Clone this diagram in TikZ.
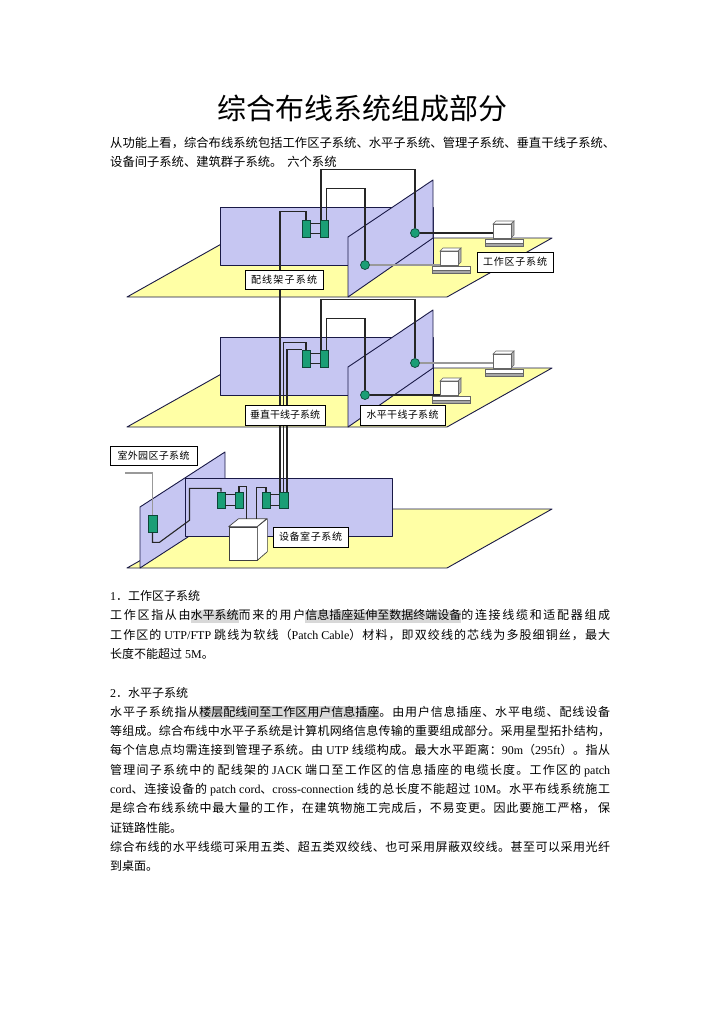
\documentclass[tikz,border=0pt]{standalone}
\usepackage{fontspec}
\setmainfont{Liberation Serif}
\newfontfamily\cjk{Noto Sans CJK SC}
\newfontfamily\enfont{Liberation Serif}
\newcount\mycnt
\mycnt="4E00
\loop
  \XeTeXcharclass\mycnt=1
  \advance\mycnt by 1
\ifnum\mycnt<"A000 \repeat
\XeTeXcharclass"3001=1 \XeTeXcharclass"3002=1 \XeTeXcharclass"FF0C=1 \XeTeXcharclass"FF08=1 \XeTeXcharclass"FF09=1 \XeTeXcharclass"FF1A=1 \XeTeXcharclass"FF0E=1
\XeTeXinterchartoks 1 1 = {\hskip 0pt plus 1fil\relax}
\XeTeXinterchartokenstate=1
\definecolor{wallblue}{RGB}{198,198,242}
\definecolor{floory}{RGB}{255,255,165}
\definecolor{navy}{RGB}{25,25,70}
\definecolor{jackg}{RGB}{26,158,118}
\definecolor{jackd}{RGB}{12,70,55}
\definecolor{hlgray}{RGB}{216,216,216}
\newcommand\EN[1]{{\enfont #1}}
\newcommand\HL[1]{{\setlength{\fboxsep}{0pt}\colorbox{hlgray}{\rule[-3pt]{0pt}{13pt}#1}}}
\newcommand\JL[1]{\hbox to 500pt{#1}}
\tikzset{
  floor/.style={fill=floory, draw=navy, line width=0.9pt, line join=round},
  wall/.style={fill=wallblue, draw=navy, line width=0.9pt, line join=round},
  wire/.style={draw=black!85, line width=1.1pt},
  gwire/.style={draw=black!40, line width=1.1pt},
  jack/.style={rectangle, fill=jackg, draw=jackd, line width=0.6pt, minimum width=8pt, minimum height=17pt, inner sep=0pt},
  outlet/.style={circle, fill=jackg, draw=jackd, line width=0.7pt, minimum size=9pt, inner sep=0pt},
  lbl/.style={draw=black, fill=white, line width=0.8pt, inner sep=0pt, minimum height=19pt, font=\cjk\fontsize{10}{10}\selectfont},
  txt/.style={anchor=west, inner sep=0pt, text height=10.5pt, text depth=1.5pt, font=\cjk\fontsize{12}{14}\selectfont},
  pc/.pic={
    \filldraw[fill=white, draw=black!60, line width=0.6pt] (-8,15) rectangle (30,22);
    \filldraw[fill=black!35, draw=black!60, line width=0.6pt] (-8,19) rectangle (30,22);
    \filldraw[fill=white, draw=black!60, line width=0.6pt] (0,0) -- (3,-3) -- (21,-3) -- (18,0) -- cycle;
    \filldraw[fill=black!30, draw=black!60, line width=0.6pt] (18,0) -- (21,-3) -- (21,11) -- (18,14) -- cycle;
    \filldraw[fill=white, draw=black!60, line width=0.6pt] (0,0) rectangle (18,14);
    \coordinate (-w) at (0,0);
  }
}
\begin{document}
\begin{tikzpicture}[x=1pt,y=-1pt]
\useasboundingbox (0,0) rectangle (724,1024);

% ---------- title and intro ----------
\node[inner sep=0pt, font=\cjk\fontsize{29}{29}\selectfont] (title) at (362,109) {综合布线系统组成部分};
\node[txt, font=\cjk\fontsize{12.3}{14}\selectfont] (i1) at (110,143) {\hbox to 505pt{从功能上看，综合布线系统包括工作区子系统、水平子系统、管理子系统、垂直干线子系统、}};
\node[txt, font=\cjk\fontsize{12.3}{14}\selectfont] (i2) at (110,162) {设备间子系统、建筑群子系统。\hspace{5pt}六个系统};

% ---------- floors and walls ----------
\foreach \dy in {0,130}{
  \begin{scope}[yshift=-\dy pt]
    \filldraw[floor] (127,297) -- (447,297) -- (552,238) -- (232,238) -- cycle;
    \filldraw[wall] (220,207) rectangle (433,265);
    \filldraw[wall] (348,297) -- (348,237) -- (433,180) -- (433,238) -- cycle;
  \end{scope}
}
\filldraw[floor] (127,568) -- (447,568) -- (552,509) -- (232,509) -- cycle;
\filldraw[wall] (140,568) -- (140,507) -- (225,452) -- (225,513) -- cycle;
\filldraw[wall] (185,478) rectangle (392,536);

% ---------- equipment on floors 1 and 2 ----------
\foreach \f/\dy in {1/0,2/130}{
  \begin{scope}[yshift=-\dy pt]
    \node[jack] (jL\f) at (306,228.5) {};
    \node[jack] (jR\f) at (324,228.5) {};
    \node[outlet] (oA\f) at (415,233) {};
    \node[outlet] (oB\f) at (365,265) {};
    \pic (pcA\f) at (493,224) {pc};
    \pic (pcB\f) at (440,251) {pc};
  \end{scope}
}

% ---------- basement equipment ----------
\node[jack, minimum width=9pt] (jP) at (152.5,523.5) {};
\node[jack, minimum height=16pt] (jB1) at (221,500) {};
\node[jack, minimum height=16pt] (jB2) at (239,500) {};
\node[jack, minimum height=16pt] (jB3) at (266,500) {};
\node[jack, minimum height=16pt, minimum width=9pt] (jB4) at (283.5,500) {};
\node[draw=black!75, fill=white, line width=0.7pt, minimum width=28pt, minimum height=33pt, inner sep=0pt] (cube) at (243,543.5) {};
\filldraw[fill=white, draw=black!75, line width=0.7pt, line join=round] (cube.north west) -- ++(10,-8) -- ++(28,0) -- (cube.north east) -- cycle;
\filldraw[fill=white, draw=black!75, line width=0.7pt, line join=round] (cube.north east) -- ++(10,-8) -- ++(0,33) -- (cube.south east) -- cycle;
\coordinate (ctA) at ([shift={(18,-8)}]cube.north west);
\coordinate (ctB) at ([shift={(28,-8)}]cube.north west);
\coordinate (ext) at (125,473);

% ---------- wires, floors 1 and 2 ----------
\foreach \f in {1,2}{
  \draw[wire] ([yshift=-4pt]jL\f.north east) -- ([yshift=-4pt]jR\f.north west);
  \draw[wire] ([yshift=4pt]jL\f.south east) -- ([yshift=4pt]jR\f.south west);
  \draw[wire] ([xshift=-3pt]jR\f.north) -- ++(0,-50) -| (oA\f.north);
  \draw[wire] ([xshift=2.5pt]jR\f.north) -- ++(0,-31) -| (oB\f.north);
}
\draw[wire] (oA1.east) -- (oA1.east -| pcA1-w);
\draw[gwire] (oB1.east) -- (oB1.east -| pcB1-w);
\draw[gwire] (oA2.east) -- (oA2.east -| pcA2-w);
\draw[wire] (oB2.east) -- (oB2.east -| pcB2-w);

% risers
\draw[wire] (jL1.north) -- ++(0,-8) -| ([xshift=-3.5pt]jB4.north);
\draw[wire] (jL2.north) -- ++(0,-7) -| (jB4.north);
\draw[wire] (jL2.north west) -| ([xshift=3.5pt]jB4.north);

% ---------- basement wires ----------
\draw[gwire] (jP.north) |- (ext);
\draw[wire] (jP.south) -- ++(0,10) -- ++(7,0) -- ++(30,-22) -- ++(0,-32) -| (jB1.north);
\draw[wire] ([yshift=-3pt]jB1.north east) -- ([yshift=-3pt]jB2.north west);
\draw[wire] ([yshift=3pt]jB1.south east) -- ([yshift=3pt]jB2.south west);
\draw[wire] ([yshift=-3pt]jB3.north east) -- ([yshift=-3pt]jB4.north west);
\draw[wire] ([yshift=3pt]jB3.south east) -- ([yshift=3pt]jB4.south west);
\draw[wire] (jB2.north) -- ++(0,-5) -| (ctA);
\draw[wire] (ctB) -- ++(0,-31) -| (jB3.north);

% ---------- labels ----------
\node[lbl, minimum width=78pt] (lb1) at (284,279.5) {\hbox to 66pt{配线架子系统}};
\node[lbl, minimum width=76pt, minimum height=20pt] (lb2) at (515,262) {\hbox to 64pt{工作区子系统}};
\node[lbl, minimum width=80pt, minimum height=20pt] (lb3) at (285,415) {\hbox to 70pt{垂直干线子系统}};
\node[lbl, minimum width=85pt, minimum height=20pt] (lb4) at (402.5,415) {\hbox to 72pt{水平干线子系统}};
\node[lbl, minimum width=87pt] (lb5) at (153.5,455.5) {\hbox to 72pt{室外园区子系统}};
\node[lbl, minimum width=75pt, minimum height=20pt] (lb6) at (310.5,537) {\hbox to 63pt{设备室子系统}};

% ---------- body text ----------
\node[txt] (s1) at (110,596) {\EN{1}．工作区子系统};
\node[txt] (s2) at (110,615.3) {\JL{工作区指从由\HL{水平系统}而来的用户\HL{信息插座延伸至数据终端设备}的连接线缆和适配器组成}};
\node[txt] (s3) at (110,634.6) {\JL{工作区的\EN{\ UTP/FTP\ }跳线为软线（\EN{Patch Cable}）材料，即双绞线的芯线为多股细铜丝，最大}};
\node[txt] (s4) at (110,654) {长度不能超过\EN{\ 5M}。};

\node[txt] (t1) at (110,692.5) {\EN{2}．水平子系统};
\node[txt] (t2) at (110,711.8) {\JL{水平子系统指从\HL{楼层配线间至工作区用户信息插座}。由用户信息插座、水平电缆、配线设备}};
\node[txt] (t3) at (110,731) {\JL{等组成。综合布线中水平子系统是计算机网络信息传输的重要组成部分。采用星型拓扑结构，}};
\node[txt] (t4) at (110,750.4) {\JL{每个信息点均需连接到管理子系统。由\EN{\ UTP\ }线缆构成。最大水平距离：\EN{90m}（\EN{295ft}）。指从}};
\node[txt] (t5) at (110,769.7) {\JL{管理间子系统中的\EN{\ }配线架的\EN{\ JACK\ }端口至工作区的信息插座的电缆长度。工作区的\EN{\ patch}}};
\node[txt] (t6) at (110,789) {\JL{\EN{cord}、连接设备的\EN{\ patch cord}、\EN{cross-connection\ }线的总长度不能超过\EN{\ 10M}。水平布线系统施工}};
\node[txt] (t7) at (110,808.3) {\JL{是综合布线系统中最大量的工作，在建筑物施工完成后，不易变更。因此要施工严格，\EN{\ }保}};
\node[txt] (t8) at (110,827.6) {证链路性能。};
\node[txt] (t9) at (110,847) {\JL{综合布线的水平线缆可采用五类、超五类双绞线、也可采用屏蔽双绞线。甚至可以采用光纤}};
\node[txt] (t10) at (110,866) {到桌面。};
\end{tikzpicture}
\end{document}
